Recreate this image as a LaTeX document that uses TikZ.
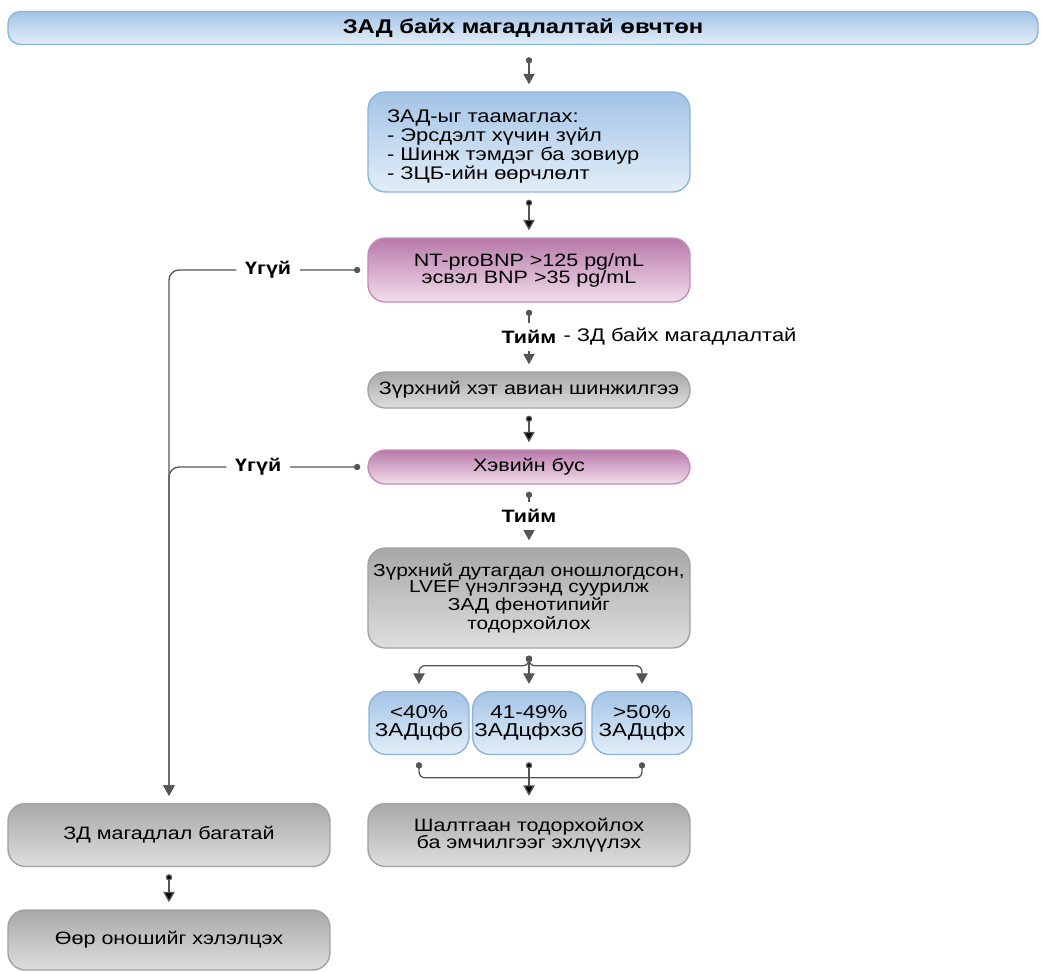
\documentclass[tikz,border=0pt]{standalone}
\usepackage{fontspec}
\setmainfont{Liberation Sans}[FakeStretch=1.2]
\usetikzlibrary{positioning,arrows.meta}

\definecolor{bluetop}{HTML}{A3C4E6}
\definecolor{bluebot}{HTML}{E3EEF8}
\definecolor{bluedge}{HTML}{8DB3DC}
\definecolor{pinktop}{HTML}{B779A9}
\definecolor{pinkbot}{HTML}{F2DEEC}
\definecolor{pinkedge}{HTML}{C58CBA}
\definecolor{greytop}{HTML}{A8A8A8}
\definecolor{greybot}{HTML}{DEDEDE}
\definecolor{greyedge}{HTML}{A2A2A2}
\definecolor{arrowgrey}{HTML}{555555}

\begin{document}
\begin{tikzpicture}[
	node distance=2.5cm,
	on grid,
	align=center,
	font=\fontsize{10.2}{9.6}\selectfont,
	box/.style={
		rectangle,
		rounded corners=3.5mm,
		line width=0.8pt,
		minimum width=6.44cm,
		inner sep=2pt
	},
	bluebox/.style={box, draw=bluedge, top color=bluetop, bottom color=bluebot},
	pinkbox/.style={box, draw=pinkedge, top color=pinktop, bottom color=pinkbot},
	greybox/.style={box, draw=greyedge, top color=greytop, bottom color=greybot},
	efbox/.style={
		bluebox,
		minimum width=2cm,
		minimum height=1.26cm,
		inner xsep=1pt,
		font=\fontsize{10.6}{10}\selectfont
	},
	flow/.style={
		{Circle[length=3.6pt]}-{Triangle[length=6pt,width=6.5pt]},
		draw=arrowgrey,
		line width=0.75pt,
		shorten <=1.4mm,
		shorten >=1.4mm
	},
	link/.style={
		{Circle[length=3.6pt]}-,
		draw=arrowgrey,
		line width=0.75pt,
		shorten <=1.4mm
	},
	answer/.style={
		fill=white,
		inner xsep=5pt,
		inner ysep=4pt,
		font=\bfseries\fontsize{10.2}{10}\selectfont
	}]

   \useasboundingbox (-10.46,0.56) rectangle (10.36,-18.86);

   \node[bluebox, minimum width=20.6cm, minimum height=0.66cm, rounded corners=2.5mm,
         font=\bfseries\fontsize{11.3}{12}\selectfont] (pat) {ЗАД байх магадлалтай өвчтөн};
   \node[bluebox, below=2.28cm of pat, xshift=0.12cm, minimum height=2cm,
         text width=5.68cm, inner xsep=0.38cm, align=left,
         font=\fontsize{10.4}{9.6}\selectfont] (sus)
        {\rule{0pt}{12pt}ЗАД-ыг таамаглах:\\- Эрсдэлт хүчин зүйл\\- Шинж тэмдэг ба зовиур\\- ЗЦБ-ийн өөрчлөлт};
   \node[pinkbox, below=2.56cm of sus, minimum height=1.28cm] (bnp)
        {NT-proBNP >125 pg/mL\\эсвэл BNP >35 pg/mL};
   \node[greybox, below=2.4cm of bnp, minimum height=0.72cm] (echo) {Зүрхний хэт авиан шинжилгээ};
   \node[pinkbox, below=1.54cm of echo, minimum height=0.68cm] (abn) {Хэвийн бус};
   \node[greybox, below=2.62cm of abn, minimum height=2cm, inner xsep=1pt,
         font=\fontsize{9.9}{9.4}\selectfont] (pheno)
        {Зүрхний дутагдал оношлогдсон,\\LVEF үнэлгээнд суурилж\\ЗАД фенотипийг\\тодорхойлох};

   \node[efbox, below=2.5cm of pheno] (ef_2) {41-49\%\\ЗАДцфхзб};
   \node[efbox, left=2.2cm of ef_2] (ef_1) {<40\%\\ЗАДцфб};
   \node[efbox, right=2.26cm of ef_2] (ef_3) {>50\%\\ЗАДцфх};

   \node[greybox, below=2.24cm of ef_2, minimum height=1.26cm] (cause)
        {Шалтгаан тодорхойлох\\ба эмчилгээг эхлүүлэх};
   \node[greybox, left=7.2cm of cause, minimum height=1.26cm] (low) {ЗД магадлал багатай};
   \node[greybox, below=2.1cm of low, minimum height=1.2cm] (alt) {Өөр оношийг хэлэлцэх};

   \coordinate (merge) at ([yshift=5mm]cause.north);

   \draw[flow, shorten <=2.4mm] (pat.south -| sus.north) -- (sus.north);
   \path[flow]
    (sus) edge (bnp)
    (echo) edge (abn)
    (ef_2) edge (cause)
    (low) edge (alt);
   \draw[flow] (bnp) -- node[answer] (yes_1) {Тийм} (echo);
   \node[anchor=west, inner xsep=0pt, font=\fontsize{10.4}{10}\selectfont] (note)
        at ([xshift=-1.5pt]yes_1.east) {- ЗД байх магадлалтай};
   \draw[flow] (abn) -- node[answer] {Тийм} (pheno);

   \draw[flow, rounded corners=2mm] (bnp.west) -| node[answer, pos=0.25] {Үгүй} (low.north);
   \draw[flow, rounded corners=2mm] (abn.west) -| node[answer, pos=0.275] {Үгүй} (low.north);

   \draw[flow, rounded corners=1.2mm] (pheno.south) -- ++(0,-0.34) -| (ef_1.north);
   \draw[flow, rounded corners=1.2mm] (pheno.south) -- ++(0,-0.34) -| (ef_3.north);
   \draw[flow] (pheno) -- (ef_2);

   \draw[link, rounded corners=1.2mm] (ef_1.south) |- (merge);
   \draw[link, rounded corners=1.2mm] (ef_3.south) |- (merge);
\end{tikzpicture}
\end{document}
